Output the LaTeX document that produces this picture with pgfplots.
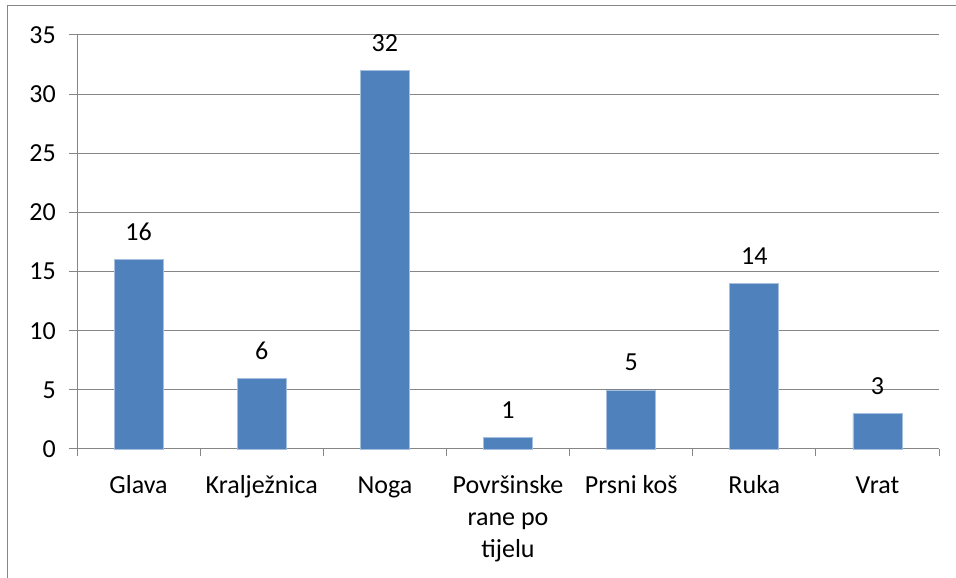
\documentclass[border=0pt]{standalone}
\usepackage{pgfplots}
\pgfplotsset{compat=1.18}
\usepackage{fontspec}
\setmainfont{Carlito}
\definecolor{barblue}{HTML}{4F81BD}
\definecolor{baredge}{HTML}{A7BFDE}
\definecolor{gridgray}{HTML}{868686}
\begin{document}
\begin{tikzpicture}[x=1pt,y=1pt,font=\fontsize{26}{32}\selectfont]
\useasboundingbox (0,0) rectangle (956,578);
\draw[gridgray, line width=1pt] (7.5,0) -- (7.5,572.5) -- (956,572.5);
\begin{axis}[
  at={(77pt,129pt)}, anchor=south west,
  scale only axis, width=862pt, height=414pt,
  xmin=-0.5, xmax=6.5, ymin=0, ymax=35,
  ytick={0,5,...,35},
  xtick={0,...,6},
  xticklabels={\strut Glava,\strut Kralježnica,\strut Noga,{\strut Površinske\\\strut rane po\\\strut tijelu},\strut Prsni koš,\strut Ruka,\strut Vrat},
  minor xtick={-0.5,0.5,...,6.5},
  axis lines*=left,
  axis line style={gridgray, line width=1pt},
  ymajorgrids,
  major grid style={gridgray, line width=1pt},
  tick align=outside,
  major tick length=8pt,
  minor tick length=7pt,
  major x tick style={draw=none},
  minor x tick style={gridgray, line width=1pt},
  major y tick style={gridgray, line width=1pt},
  /pgf/number format/assume math mode=true,
  xticklabel style={align=center, anchor=north, yshift=-13.6pt, inner sep=0pt},
  yticklabel style={anchor=east, inner sep=0pt, xshift=-13pt},
  ybar, bar width=49pt,
  nodes near coords,
  nodes near coords style={anchor=base, inner sep=0pt, yshift=19pt, text=black},
  clip=false,
]
\addplot[fill=barblue, draw=baredge, line width=0.6pt] coordinates {(0,16) (1,6) (2,32) (3,1) (4,5) (5,14) (6,3)};
\end{axis}
\end{tikzpicture}
\end{document}
